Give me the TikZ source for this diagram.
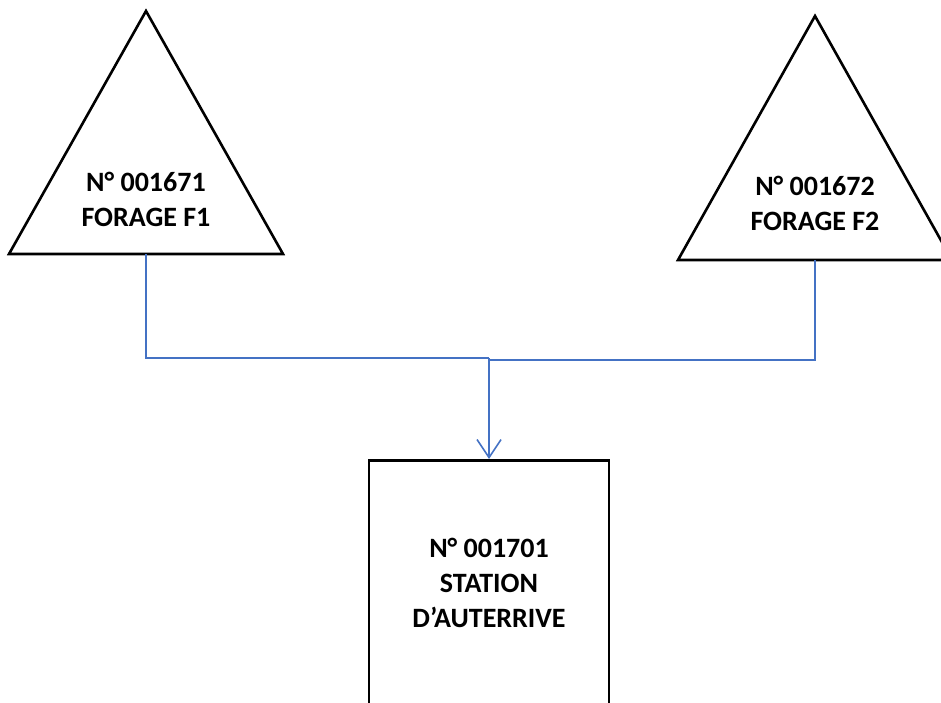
\documentclass[tikz,border=0pt]{standalone}
\usepackage{fontspec}
\setmainfont{Carlito}
\usetikzlibrary{arrows.meta}
\definecolor{linkblue}{RGB}{68,114,196}
\tikzset{
  shapeline/.style={draw=black, line width=2.6pt, line join=miter},
  label/.style={font=\bfseries\fontsize{28}{35}\selectfont, align=center, inner sep=0pt},
  link/.style={draw=linkblue, line width=1.6pt},
}
\begin{document}
\begin{tikzpicture}[x=1pt,y=-1pt]
\useasboundingbox (0,0) rectangle (941,702);
\clip (0,0) rectangle (941,702);
% triangle 1
\coordinate (t1top) at (146,11);
\coordinate (t1l) at (9,254);
\coordinate (t1r) at (283,254);
\coordinate (t1b) at (146,254);
\draw[shapeline] (t1top) -- (t1l) -- (t1r) -- cycle;
\node[label] (t1text) at (146,199) {N° 001671\\FORAGE F1};
% triangle 2
\coordinate (t2top) at (815,16);
\coordinate (t2l) at (678,260);
\coordinate (t2r) at (952,260);
\coordinate (t2b) at (815,260);
\draw[shapeline] (t2top) -- (t2l) -- (t2r) -- cycle;
\node[label] (t2text) at (815,203) {N° 001672\\FORAGE F2};
% station box
\node[draw=black, line width=2.6pt, minimum width=240pt, minimum height=260pt, anchor=north, inner sep=0pt] (st) at (489,459) {};
\node[label] (sttext) at (489,583) {N° 001701\\STATION\\D’AUTERRIVE};
% connectors
\coordinate (j1) at (146,358);
\coordinate (j2) at (815,360);
\coordinate (jm) at (489,358);
\coordinate (jm2) at (489,360);
\draw[link] (t1b) -- (j1) -- (jm);
\draw[link] (t2b) -- (j2) -- (jm2);
\draw[link, -{Straight Barb[length=18pt, width=24pt, line width=1.6pt]}] (jm) -- (st.north);
\end{tikzpicture}
\end{document}
